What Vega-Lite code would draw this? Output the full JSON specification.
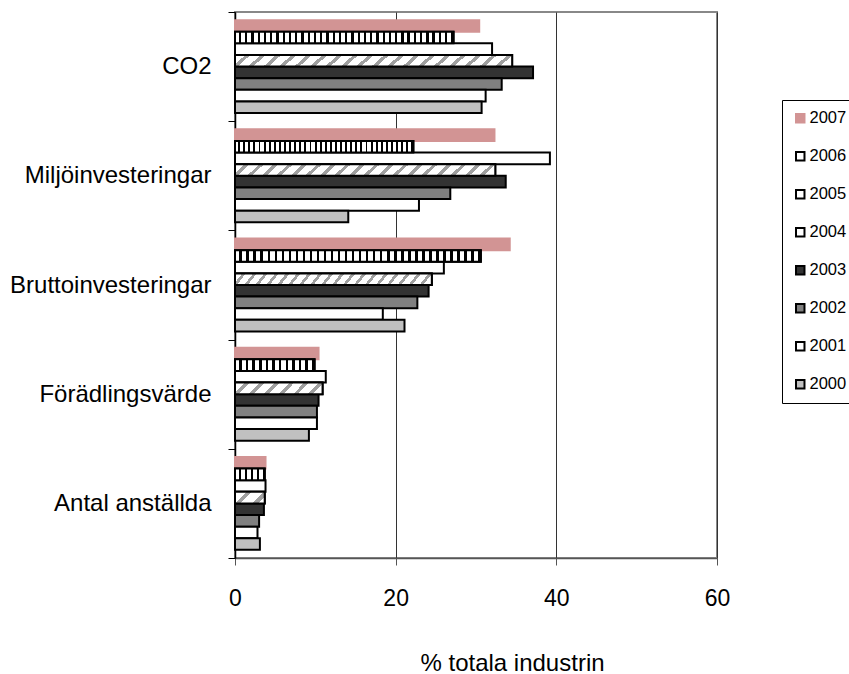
{
"$schema":"https://vega.github.io/schema/vega-lite/v6.json",
"width":482,"height":546,
"autosize":{"type":"none"},
"padding":{"left":235,"top":12,"right":132,"bottom":116},
"background":"white",
"config":{"font":"Liberation Sans","view":{"stroke":"#888888","strokeWidth":2}},
"data":{"values":[
{"cat":"CO2","year":"2007","value":30.4},
{"cat":"CO2","year":"2006","value":27.2},
{"cat":"CO2","year":"2005","value":32.0},
{"cat":"CO2","year":"2004","value":34.5},
{"cat":"CO2","year":"2003","value":37.1},
{"cat":"CO2","year":"2002","value":33.2},
{"cat":"CO2","year":"2001","value":31.2},
{"cat":"CO2","year":"2000","value":30.7},
{"cat":"Miljöinvesteringar","year":"2007","value":32.3},
{"cat":"Miljöinvesteringar","year":"2006","value":22.2},
{"cat":"Miljöinvesteringar","year":"2005","value":39.2},
{"cat":"Miljöinvesteringar","year":"2004","value":32.4},
{"cat":"Miljöinvesteringar","year":"2003","value":33.7},
{"cat":"Miljöinvesteringar","year":"2002","value":26.8},
{"cat":"Miljöinvesteringar","year":"2001","value":22.9},
{"cat":"Miljöinvesteringar","year":"2000","value":14.1},
{"cat":"Bruttoinvesteringar","year":"2007","value":34.2},
{"cat":"Bruttoinvesteringar","year":"2006","value":30.6},
{"cat":"Bruttoinvesteringar","year":"2005","value":26.0},
{"cat":"Bruttoinvesteringar","year":"2004","value":24.5},
{"cat":"Bruttoinvesteringar","year":"2003","value":24.1},
{"cat":"Bruttoinvesteringar","year":"2002","value":22.7},
{"cat":"Bruttoinvesteringar","year":"2001","value":18.4},
{"cat":"Bruttoinvesteringar","year":"2000","value":21.1},
{"cat":"Förädlingsvärde","year":"2007","value":10.4},
{"cat":"Förädlingsvärde","year":"2006","value":9.9},
{"cat":"Förädlingsvärde","year":"2005","value":11.3},
{"cat":"Förädlingsvärde","year":"2004","value":10.9},
{"cat":"Förädlingsvärde","year":"2003","value":10.4},
{"cat":"Förädlingsvärde","year":"2002","value":10.2},
{"cat":"Förädlingsvärde","year":"2001","value":10.2},
{"cat":"Förädlingsvärde","year":"2000","value":9.2},
{"cat":"Antal anställda","year":"2007","value":3.8},
{"cat":"Antal anställda","year":"2006","value":3.7},
{"cat":"Antal anställda","year":"2005","value":3.8},
{"cat":"Antal anställda","year":"2004","value":3.7},
{"cat":"Antal anställda","year":"2003","value":3.6},
{"cat":"Antal anställda","year":"2002","value":3.0},
{"cat":"Antal anställda","year":"2001","value":2.8},
{"cat":"Antal anställda","year":"2000","value":3.1}
]},
"encoding":{
"y":{"field":"cat","type":"nominal","sort":["CO2","Miljöinvesteringar","Bruttoinvesteringar","Förädlingsvärde","Antal anställda"],"scale":{"paddingInner":0,"paddingOuter":0},
"axis":{"title":null,"tickBand":"extent","tickSize":7,"tickColor":"#000000","tickWidth":1,"domainColor":"#000000","domainWidth":1.5,"labelFontSize":24,"labelColor":"#000000","labelPadding":17,"labelLimit":0,"grid":false}},
"yOffset":{"field":"year","type":"nominal","scale":{"domain":["2007","2006","2005","2004","2003","2002","2001","2000"],"paddingInner":0,"paddingOuter":0.7}},
"x":{"field":"value","type":"quantitative","scale":{"domain":[0,60],"nice":false},
"axis":{"values":[0,20,40,60],"grid":true,"gridColor":"#333333","gridWidth":1,"tickSize":7,"tickColor":"#555555","domainColor":"#555555","domainWidth":1.5,"labelFontSize":23,"labelColor":"#000000","labelPadding":22,"labelFlush":false,"title":"% totala industrin","titleFontSize":24,"titleFontWeight":"normal","titleColor":"#000000","titleX":277,"titleY":112,"titleBaseline":"alphabetic","titleAnchor":null}}
},
"layer":[
{"mark":{"type":"bar","strokeWidth":2},
"encoding":{
"color":{"field":"year","type":"nominal","scale":{"domain":["2007","2006","2005","2004","2003","2002","2001","2000"],"range":["#d29494","#ffffff","#ffffff","#ffffff","#333333","#808080","#ffffff","#c0c0c0"]},
"legend":{"orient":"none","legendX":547,"legendY":88,"title":null,"symbolType":"square","symbolSize":72,"symbolStrokeWidth":2,"labelFontSize":16.5,"labelColor":"#000000","labelOffset":1,"padding":10,"rowPadding":21,"strokeColor":"#000000","fillColor":"#ffffff"}},
"stroke":{"field":"year","type":"nominal","scale":{"domain":["2007","2006","2005","2004","2003","2002","2001","2000"],"range":["#d29494","#000000","#000000","#000000","#000000","#000000","#000000","#000000"]},
"legend":{"orient":"none","legendX":547,"legendY":88,"title":null,"symbolType":"square","symbolSize":72,"symbolStrokeWidth":2,"labelFontSize":16.5,"labelColor":"#000000","labelOffset":1,"padding":10,"rowPadding":21,"strokeColor":"#000000","fillColor":"#ffffff"}}
}},
{"transform":[{"filter":"datum.year === '2006' && (datum.cat === 'CO2' || datum.cat === 'Miljöinvesteringar' || datum.cat === 'Bruttoinvesteringar')"}],
"mark":{"type":"bar","stroke":"#000000","strokeWidth":2,"fill":{"gradient":"linear","x1":0,"y1":0,"x2":1,"y2":0,"stops":[
{"offset":0,"color":"#fff"},{"offset":0.018,"color":"#fff"},{"offset":0.018,"color":"#000"},{"offset":0.0286,"color":"#000"},
{"offset":0.0286,"color":"#fff"},{"offset":0.0466,"color":"#fff"},{"offset":0.0466,"color":"#000"},{"offset":0.0571,"color":"#000"},
{"offset":0.0571,"color":"#fff"},{"offset":0.0751,"color":"#fff"},{"offset":0.0751,"color":"#000"},{"offset":0.0857,"color":"#000"},
{"offset":0.0857,"color":"#fff"},{"offset":0.1037,"color":"#fff"},{"offset":0.1037,"color":"#000"},{"offset":0.1143,"color":"#000"},
{"offset":0.1143,"color":"#fff"},{"offset":0.1323,"color":"#fff"},{"offset":0.1323,"color":"#000"},{"offset":0.1429,"color":"#000"},
{"offset":0.1429,"color":"#fff"},{"offset":0.1609,"color":"#fff"},{"offset":0.1609,"color":"#000"},{"offset":0.1714,"color":"#000"},
{"offset":0.1714,"color":"#fff"},{"offset":0.1894,"color":"#fff"},{"offset":0.1894,"color":"#000"},{"offset":0.2,"color":"#000"},
{"offset":0.2,"color":"#fff"},{"offset":0.218,"color":"#fff"},{"offset":0.218,"color":"#000"},{"offset":0.2286,"color":"#000"},
{"offset":0.2286,"color":"#fff"},{"offset":0.2466,"color":"#fff"},{"offset":0.2466,"color":"#000"},{"offset":0.2571,"color":"#000"},
{"offset":0.2571,"color":"#fff"},{"offset":0.2751,"color":"#fff"},{"offset":0.2751,"color":"#000"},{"offset":0.2857,"color":"#000"},
{"offset":0.2857,"color":"#fff"},{"offset":0.3037,"color":"#fff"},{"offset":0.3037,"color":"#000"},{"offset":0.3143,"color":"#000"},
{"offset":0.3143,"color":"#fff"},{"offset":0.3323,"color":"#fff"},{"offset":0.3323,"color":"#000"},{"offset":0.3429,"color":"#000"},
{"offset":0.3429,"color":"#fff"},{"offset":0.3609,"color":"#fff"},{"offset":0.3609,"color":"#000"},{"offset":0.3714,"color":"#000"},
{"offset":0.3714,"color":"#fff"},{"offset":0.3894,"color":"#fff"},{"offset":0.3894,"color":"#000"},{"offset":0.4,"color":"#000"},
{"offset":0.4,"color":"#fff"},{"offset":0.418,"color":"#fff"},{"offset":0.418,"color":"#000"},{"offset":0.4286,"color":"#000"},
{"offset":0.4286,"color":"#fff"},{"offset":0.4466,"color":"#fff"},{"offset":0.4466,"color":"#000"},{"offset":0.4571,"color":"#000"},
{"offset":0.4571,"color":"#fff"},{"offset":0.4751,"color":"#fff"},{"offset":0.4751,"color":"#000"},{"offset":0.4857,"color":"#000"},
{"offset":0.4857,"color":"#fff"},{"offset":0.5037,"color":"#fff"},{"offset":0.5037,"color":"#000"},{"offset":0.5143,"color":"#000"},
{"offset":0.5143,"color":"#fff"},{"offset":0.5323,"color":"#fff"},{"offset":0.5323,"color":"#000"},{"offset":0.5429,"color":"#000"},
{"offset":0.5429,"color":"#fff"},{"offset":0.5609,"color":"#fff"},{"offset":0.5609,"color":"#000"},{"offset":0.5714,"color":"#000"},
{"offset":0.5714,"color":"#fff"},{"offset":0.5894,"color":"#fff"},{"offset":0.5894,"color":"#000"},{"offset":0.6,"color":"#000"},
{"offset":0.6,"color":"#fff"},{"offset":0.618,"color":"#fff"},{"offset":0.618,"color":"#000"},{"offset":0.6286,"color":"#000"},
{"offset":0.6286,"color":"#fff"},{"offset":0.6466,"color":"#fff"},{"offset":0.6466,"color":"#000"},{"offset":0.6571,"color":"#000"},
{"offset":0.6571,"color":"#fff"},{"offset":0.6751,"color":"#fff"},{"offset":0.6751,"color":"#000"},{"offset":0.6857,"color":"#000"},
{"offset":0.6857,"color":"#fff"},{"offset":0.7037,"color":"#fff"},{"offset":0.7037,"color":"#000"},{"offset":0.7143,"color":"#000"},
{"offset":0.7143,"color":"#fff"},{"offset":0.7323,"color":"#fff"},{"offset":0.7323,"color":"#000"},{"offset":0.7429,"color":"#000"},
{"offset":0.7429,"color":"#fff"},{"offset":0.7609,"color":"#fff"},{"offset":0.7609,"color":"#000"},{"offset":0.7714,"color":"#000"},
{"offset":0.7714,"color":"#fff"},{"offset":0.7894,"color":"#fff"},{"offset":0.7894,"color":"#000"},{"offset":0.8,"color":"#000"},
{"offset":0.8,"color":"#fff"},{"offset":0.818,"color":"#fff"},{"offset":0.818,"color":"#000"},{"offset":0.8286,"color":"#000"},
{"offset":0.8286,"color":"#fff"},{"offset":0.8466,"color":"#fff"},{"offset":0.8466,"color":"#000"},{"offset":0.8571,"color":"#000"},
{"offset":0.8571,"color":"#fff"},{"offset":0.8751,"color":"#fff"},{"offset":0.8751,"color":"#000"},{"offset":0.8857,"color":"#000"},
{"offset":0.8857,"color":"#fff"},{"offset":0.9037,"color":"#fff"},{"offset":0.9037,"color":"#000"},{"offset":0.9143,"color":"#000"},
{"offset":0.9143,"color":"#fff"},{"offset":0.9323,"color":"#fff"},{"offset":0.9323,"color":"#000"},{"offset":0.9429,"color":"#000"},
{"offset":0.9429,"color":"#fff"},{"offset":0.9609,"color":"#fff"},{"offset":0.9609,"color":"#000"},{"offset":0.9714,"color":"#000"},
{"offset":0.9714,"color":"#fff"},{"offset":0.9894,"color":"#fff"},{"offset":0.9894,"color":"#000"},{"offset":1,"color":"#000"}
]}}},
{"transform":[{"filter":"datum.year === '2006' && datum.cat === 'Förädlingsvärde'"}],
"mark":{"type":"bar","stroke":"#000000","strokeWidth":2,"fill":{"gradient":"linear","x1":0,"y1":0,"x2":1,"y2":0,"stops":[
{"offset":0,"color":"#fff"},{"offset":0.0525,"color":"#fff"},{"offset":0.0525,"color":"#000"},{"offset":0.0833,"color":"#000"},
{"offset":0.0833,"color":"#fff"},{"offset":0.1358,"color":"#fff"},{"offset":0.1358,"color":"#000"},{"offset":0.1667,"color":"#000"},
{"offset":0.1667,"color":"#fff"},{"offset":0.2192,"color":"#fff"},{"offset":0.2192,"color":"#000"},{"offset":0.25,"color":"#000"},
{"offset":0.25,"color":"#fff"},{"offset":0.3025,"color":"#fff"},{"offset":0.3025,"color":"#000"},{"offset":0.3333,"color":"#000"},
{"offset":0.3333,"color":"#fff"},{"offset":0.3858,"color":"#fff"},{"offset":0.3858,"color":"#000"},{"offset":0.4167,"color":"#000"},
{"offset":0.4167,"color":"#fff"},{"offset":0.4692,"color":"#fff"},{"offset":0.4692,"color":"#000"},{"offset":0.5,"color":"#000"},
{"offset":0.5,"color":"#fff"},{"offset":0.5525,"color":"#fff"},{"offset":0.5525,"color":"#000"},{"offset":0.5833,"color":"#000"},
{"offset":0.5833,"color":"#fff"},{"offset":0.6358,"color":"#fff"},{"offset":0.6358,"color":"#000"},{"offset":0.6667,"color":"#000"},
{"offset":0.6667,"color":"#fff"},{"offset":0.7192,"color":"#fff"},{"offset":0.7192,"color":"#000"},{"offset":0.75,"color":"#000"},
{"offset":0.75,"color":"#fff"},{"offset":0.8025,"color":"#fff"},{"offset":0.8025,"color":"#000"},{"offset":0.8333,"color":"#000"},
{"offset":0.8333,"color":"#fff"},{"offset":0.8858,"color":"#fff"},{"offset":0.8858,"color":"#000"},{"offset":0.9167,"color":"#000"},
{"offset":0.9167,"color":"#fff"},{"offset":0.9692,"color":"#fff"},{"offset":0.9692,"color":"#000"},{"offset":1,"color":"#000"}
]}}},
{"transform":[{"filter":"datum.year === '2006' && datum.cat === 'Antal anställda'"}],
"mark":{"type":"bar","stroke":"#000000","strokeWidth":2,"fill":{"gradient":"linear","x1":0,"y1":0,"x2":1,"y2":0,"stops":[
{"offset":0,"color":"#fff"},{"offset":0.126,"color":"#fff"},{"offset":0.126,"color":"#000"},{"offset":0.2,"color":"#000"},
{"offset":0.2,"color":"#fff"},{"offset":0.326,"color":"#fff"},{"offset":0.326,"color":"#000"},{"offset":0.4,"color":"#000"},
{"offset":0.4,"color":"#fff"},{"offset":0.526,"color":"#fff"},{"offset":0.526,"color":"#000"},{"offset":0.6,"color":"#000"},
{"offset":0.6,"color":"#fff"},{"offset":0.726,"color":"#fff"},{"offset":0.726,"color":"#000"},{"offset":0.8,"color":"#000"},
{"offset":0.8,"color":"#fff"},{"offset":0.926,"color":"#fff"},{"offset":0.926,"color":"#000"},{"offset":1,"color":"#000"}
]}}},
{"transform":[{"filter":"datum.year === '2004' && (datum.cat === 'CO2' || datum.cat === 'Miljöinvesteringar' || datum.cat === 'Bruttoinvesteringar')"}],
"mark":{"type":"bar","stroke":"#000000","strokeWidth":2,"fill":{"gradient":"linear","x1":0,"y1":0,"x2":1,"y2":0.047,"stops":[
{"offset":0,"color":"#fff"},{"offset":0.0372,"color":"#fff"},{"offset":0.0372,"color":"#a0a0a0"},{"offset":0.0556,"color":"#a0a0a0"},
{"offset":0.0556,"color":"#fff"},{"offset":0.0928,"color":"#fff"},{"offset":0.0928,"color":"#a0a0a0"},{"offset":0.1111,"color":"#a0a0a0"},
{"offset":0.1111,"color":"#fff"},{"offset":0.1483,"color":"#fff"},{"offset":0.1483,"color":"#a0a0a0"},{"offset":0.1667,"color":"#a0a0a0"},
{"offset":0.1667,"color":"#fff"},{"offset":0.2039,"color":"#fff"},{"offset":0.2039,"color":"#a0a0a0"},{"offset":0.2222,"color":"#a0a0a0"},
{"offset":0.2222,"color":"#fff"},{"offset":0.2594,"color":"#fff"},{"offset":0.2594,"color":"#a0a0a0"},{"offset":0.2778,"color":"#a0a0a0"},
{"offset":0.2778,"color":"#fff"},{"offset":0.315,"color":"#fff"},{"offset":0.315,"color":"#a0a0a0"},{"offset":0.3333,"color":"#a0a0a0"},
{"offset":0.3333,"color":"#fff"},{"offset":0.3705,"color":"#fff"},{"offset":0.3705,"color":"#a0a0a0"},{"offset":0.3889,"color":"#a0a0a0"},
{"offset":0.3889,"color":"#fff"},{"offset":0.4261,"color":"#fff"},{"offset":0.4261,"color":"#a0a0a0"},{"offset":0.4444,"color":"#a0a0a0"},
{"offset":0.4444,"color":"#fff"},{"offset":0.4816,"color":"#fff"},{"offset":0.4816,"color":"#a0a0a0"},{"offset":0.5,"color":"#a0a0a0"},
{"offset":0.5,"color":"#fff"},{"offset":0.5372,"color":"#fff"},{"offset":0.5372,"color":"#a0a0a0"},{"offset":0.5556,"color":"#a0a0a0"},
{"offset":0.5556,"color":"#fff"},{"offset":0.5928,"color":"#fff"},{"offset":0.5928,"color":"#a0a0a0"},{"offset":0.6111,"color":"#a0a0a0"},
{"offset":0.6111,"color":"#fff"},{"offset":0.6483,"color":"#fff"},{"offset":0.6483,"color":"#a0a0a0"},{"offset":0.6667,"color":"#a0a0a0"},
{"offset":0.6667,"color":"#fff"},{"offset":0.7039,"color":"#fff"},{"offset":0.7039,"color":"#a0a0a0"},{"offset":0.7222,"color":"#a0a0a0"},
{"offset":0.7222,"color":"#fff"},{"offset":0.7594,"color":"#fff"},{"offset":0.7594,"color":"#a0a0a0"},{"offset":0.7778,"color":"#a0a0a0"},
{"offset":0.7778,"color":"#fff"},{"offset":0.815,"color":"#fff"},{"offset":0.815,"color":"#a0a0a0"},{"offset":0.8333,"color":"#a0a0a0"},
{"offset":0.8333,"color":"#fff"},{"offset":0.8705,"color":"#fff"},{"offset":0.8705,"color":"#a0a0a0"},{"offset":0.8889,"color":"#a0a0a0"},
{"offset":0.8889,"color":"#fff"},{"offset":0.9261,"color":"#fff"},{"offset":0.9261,"color":"#a0a0a0"},{"offset":0.9444,"color":"#a0a0a0"},
{"offset":0.9444,"color":"#fff"},{"offset":0.9816,"color":"#fff"},{"offset":0.9816,"color":"#a0a0a0"},{"offset":1,"color":"#a0a0a0"},
{"offset":1,"color":"#fff"}
]}}},
{"transform":[{"filter":"datum.year === '2004' && datum.cat === 'Förädlingsvärde'"}],
"mark":{"type":"bar","stroke":"#000000","strokeWidth":2,"fill":{"gradient":"linear","x1":0,"y1":0,"x2":1,"y2":0.13,"stops":[
{"offset":0,"color":"#fff"},{"offset":0.1117,"color":"#fff"},{"offset":0.1117,"color":"#a0a0a0"},{"offset":0.1667,"color":"#a0a0a0"},
{"offset":0.1667,"color":"#fff"},{"offset":0.2784,"color":"#fff"},{"offset":0.2784,"color":"#a0a0a0"},{"offset":0.3333,"color":"#a0a0a0"},
{"offset":0.3333,"color":"#fff"},{"offset":0.445,"color":"#fff"},{"offset":0.445,"color":"#a0a0a0"},{"offset":0.5,"color":"#a0a0a0"},
{"offset":0.5,"color":"#fff"},{"offset":0.6117,"color":"#fff"},{"offset":0.6117,"color":"#a0a0a0"},{"offset":0.6667,"color":"#a0a0a0"},
{"offset":0.6667,"color":"#fff"},{"offset":0.7784,"color":"#fff"},{"offset":0.7784,"color":"#a0a0a0"},{"offset":0.8333,"color":"#a0a0a0"},
{"offset":0.8333,"color":"#fff"},{"offset":0.945,"color":"#fff"},{"offset":0.945,"color":"#a0a0a0"},{"offset":1,"color":"#a0a0a0"},
{"offset":1,"color":"#fff"}
]}}},
{"transform":[{"filter":"datum.year === '2004' && datum.cat === 'Antal anställda'"}],
"mark":{"type":"bar","stroke":"#000000","strokeWidth":2,"fill":{"gradient":"linear","x1":0,"y1":0,"x2":1,"y2":0.39,"stops":[
{"offset":0,"color":"#fff"},{"offset":0.335,"color":"#fff"},{"offset":0.335,"color":"#a0a0a0"},{"offset":0.5,"color":"#a0a0a0"},
{"offset":0.5,"color":"#fff"},{"offset":0.835,"color":"#fff"},{"offset":0.835,"color":"#a0a0a0"},{"offset":1,"color":"#a0a0a0"},
{"offset":1,"color":"#fff"}
]}}}
]
}
